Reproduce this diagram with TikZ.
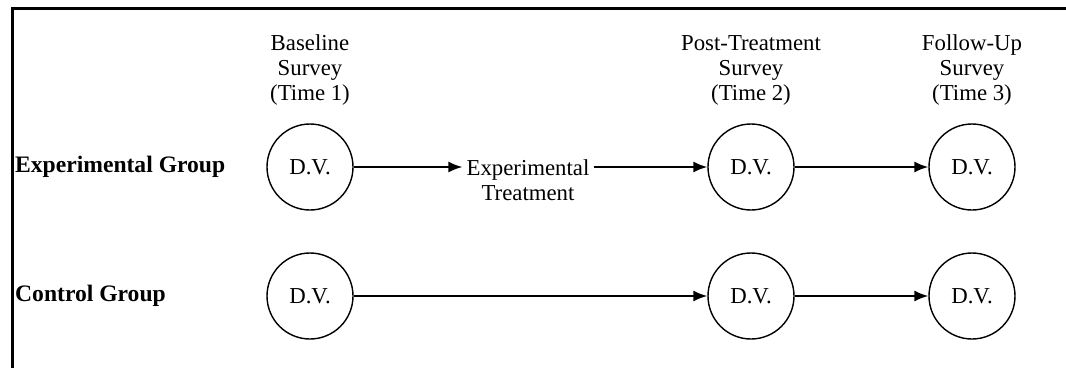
\documentclass[tikz,border=0pt]{standalone}
\usepackage{fontspec}
\setmainfont{Liberation Serif}
\usetikzlibrary{arrows.meta}
\tikzset{dv/.style={circle, draw, line width=1.4pt, minimum size=86pt, inner sep=0pt, font=\fontsize{22.8pt}{25pt}\selectfont}}
\tikzset{hdr/.style={align=center, font=\fontsize{22.8pt}{25pt}\selectfont}}
\tikzset{grp/.style={anchor=west, inner sep=0pt, font=\fontsize{23.6pt}{25pt}\selectfont\bfseries}}
\tikzset{flow/.style={line width=1.7pt, -{Latex[length=14pt, width=11pt]}}}

\begin{document}
\begin{tikzpicture}[x=1pt, y=1pt]
    \useasboundingbox (0,0) rectangle (1066,368);
    \draw[line width=3pt] (12,0) -- (12,360) -- (1066,360);

    \node (t1) at (310,298) [hdr] {Baseline\\Survey\\(Time 1)};
    \node (t2) at (751,298) [hdr] {Post-Treatment\\Survey\\(Time 2)};
    \node (t3) at (972,298) [hdr] {Follow-Up\\Survey\\(Time 3)};

    \node (eg) at (15,201) [grp] {Experimental Group};
    \node (cg) at (15,72) [grp] {Control Group};

    \node (e1) at (310,201) [dv] {D.V.};
    \node (e2) at (751,201) [dv] {D.V.};
    \node (e3) at (972,201) [dv] {D.V.};
    \node (c1) at (310,72) [dv] {D.V.};
    \node (c2) at (751,72) [dv] {D.V.};
    \node (c3) at (972,72) [dv] {D.V.};

    \node (treat) at (528,188) [hdr, inner sep=4pt] {Experimental\\Treatment};

    \draw[flow] (e1) -- (treat.west |- e1);
    \draw[flow] (treat.east |- e1) -- (e2);
    \draw[flow] (e2) -- (e3);
    \draw[flow] (c1) -- (c2);
    \draw[flow] (c2) -- (c3);
\end{tikzpicture}
\end{document}
